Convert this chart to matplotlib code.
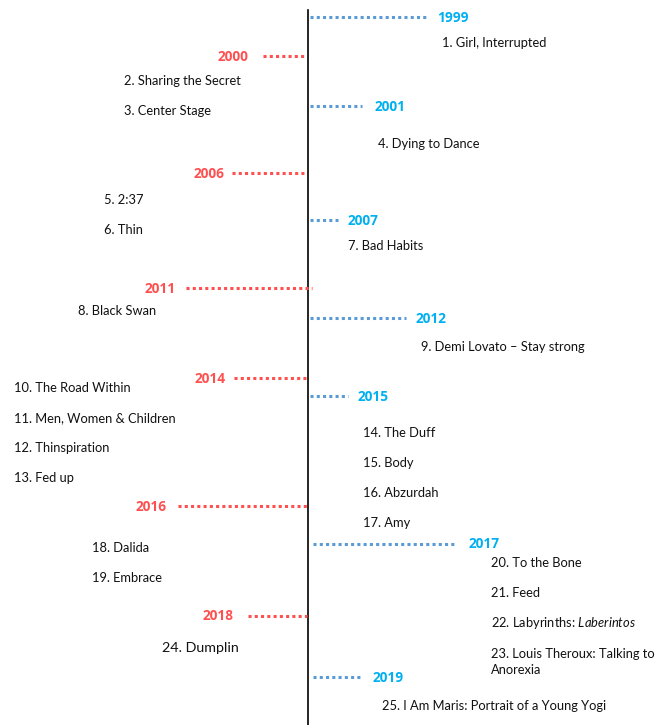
import matplotlib.pyplot as plt

plt.rcParams['font.family'] = ['Lato', 'DejaVu Sans']
plt.rcParams['mathtext.fontset'] = 'custom'
plt.rcParams['mathtext.it'] = 'Lato:italic'
plt.rcParams['mathtext.rm'] = 'Lato'

# year markers: label, side, y of row, start/end of dotted line, label anchor x
years = ['1999', '2000', '2001', '2006', '2007', '2011', '2012',
         '2014', '2015', '2016', '2017', '2018', '2019']
year_side = ['R', 'L', 'R', 'L', 'R', 'L', 'R', 'L', 'R', 'L', 'R', 'L', 'R']
year_y = [17, 56, 106, 173, 220, 288, 318, 378, 396, 506, 544, 616, 677]
line_x0 = [310, 263, 310, 232, 310, 186, 310, 234, 310, 178, 313, 248, 313]
line_x1 = [427, 305, 362, 305, 338, 312, 406, 307, 348, 307, 457, 307, 362]
label_x = [437, 248, 375, 224, 348, 176, 416, 226, 358, 167, 469, 234, 373]

# films
titles = ['1. Girl, Interrupted', '2. Sharing the Secret', '3. Center Stage',
          '4. Dying to Dance', '5. 2:37', '6. Thin', '7. Bad Habits',
          '8. Black Swan', '9. Demi Lovato \u2013 Stay strong',
          '10. The Road Within', '11. Men, Women & Children',
          '12. Thinspiration', '13. Fed up', '14. The Duff', '15. Body',
          '16. Abzurdah', '17. Amy', '18. Dalida', '19. Embrace',
          '20. To the Bone', '21. Feed', '22. Labyrinths: $\\it{Laberintos}$',
          '23. Louis Theroux: Talking to\nAnorexia', '24. Dumplin',
          '25. I Am Maris: Portrait of a Young Yogi']
title_x = [442, 124, 124, 378, 104, 104, 348, 78, 421, 14, 14, 14, 14,
           363, 363, 363, 363, 92, 92, 491, 491, 491, 491, 162, 382]
title_y = [42, 80, 110, 143, 199, 229, 245, 310, 346, 387, 417, 447, 477,
           432, 462, 492, 522, 547, 577, 562, 592, 622, 661, 647, 705]

blue_line = '#5B9BD5'
blue_text = '#00B0F0'
red = '#FF5050'

fig = plt.figure(figsize=(6.66, 7.25), dpi=100)
ax = fig.add_axes([0, 0, 1, 1])
ax.set_xlim(0, 666)
ax.set_ylim(725, 0)
ax.axis('off')

# main axis of the timeline
ax.plot([308, 308], [10, 725], color='black', lw=1.2)

dots = (0, (1, 1.05))
for yr, side, y, x0, x1, lx in zip(years, year_side, year_y,
                                   line_x0, line_x1, label_x):
    col_line = blue_line if side == 'R' else red
    col_text = blue_text if side == 'R' else red
    ax.plot([x0, x1], [y, y], color=col_line, lw=2.2,
            linestyle=dots, solid_capstyle='butt')
    ax.text(lx, y + 0.5, yr, color=col_text, fontsize=9.8,
            family=['Open Sans'], fontweight='bold',
            ha='left' if side == 'R' else 'right', va='center')

for t, x, y in zip(titles, title_x, title_y):
    size = 10.3 if t.startswith('24.') else 9.3
    ax.text(x, y + 1, t, color='#111111', fontsize=size, ha='left', va='center',
            linespacing=1.45)

fig.savefig('out.png', dpi=100)
